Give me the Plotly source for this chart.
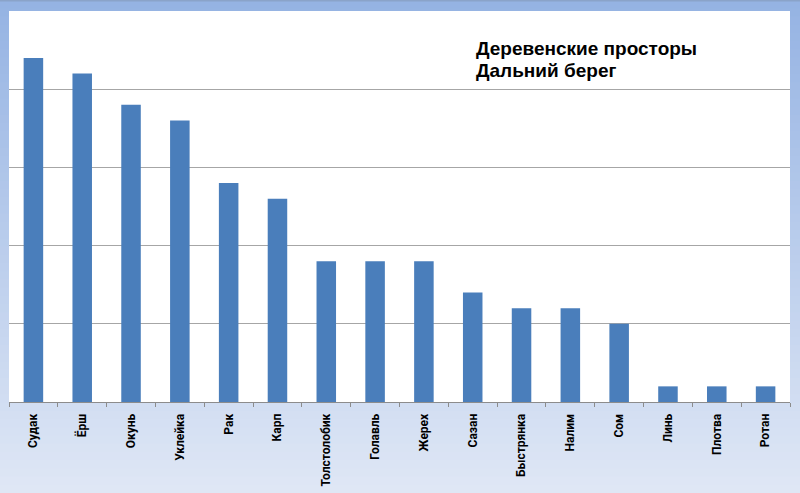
import plotly.graph_objects as go

categories = ["Судак", "Ёрш", "Окунь", "Уклейка", "Рак", "Карп", "Толстолобик", "Голавль",
              "Жерех", "Сазан", "Быстрянка", "Налим", "Сом", "Линь", "Плотва", "Ротан"]
values = [22, 21, 19, 18, 14, 13, 9, 9, 9, 7, 6, 6, 5, 1, 1, 1]
title_lines = ["Деревенские просторы", "Дальний берег"]

W, H = 800, 493
ML, MR, MT, MB = 9, 10, 11, 91
PW, PH = W - ML - MR, H - MT - MB

fig = go.Figure(go.Bar(x=categories, y=values, marker=dict(color="#4a7ebb", line=dict(width=0)),
                       hoverinfo="x+y"))

# background gradient (style only)
shapes = []
top = (0x95, 0xb3, 0xe3)
bot = (0xdf, 0xe7, 0xf5)
n = 60
for i in range(n):
    t = i / (n - 1)
    c = tuple(int(round(top[k] + (bot[k] - top[k]) * t)) for k in range(3))
    ypx0 = H * i / n
    ypx1 = H * (i + 1) / n + 1
    y0 = 1 - (ypx1 - MT) / PH
    y1 = 1 - (ypx0 - MT) / PH
    shapes.append(dict(type="rect", xref="paper", yref="paper", x0=-0.05, x1=1.05, y0=y0, y1=y1,
                       fillcolor="rgb(%d,%d,%d)" % c, line=dict(width=0), layer="below"))
shapes.append(dict(type="rect", xref="paper", yref="paper", x0=-0.05, x1=1.05,
                   y0=1 + (MT - 1.5) / PH, y1=1 + (MT + 2) / PH,
                   fillcolor="#8aa3c9", line=dict(width=0), layer="below"))
shapes.append(dict(type="rect", xref="paper", yref="paper", x0=0, x1=1, y0=0, y1=1,
                   fillcolor="white", line=dict(width=0), layer="below"))

title_tops = [36, 58]
annotations = [dict(
    text=line,
    xref="paper", yref="paper",
    x=(474 - ML) / PW, y=1 - (ty - MT) / PH,
    xanchor="left", yanchor="top", align="left", showarrow=False,
    font=dict(family="Liberation Sans", size=19, color="#000000", weight="bold"),
) for line, ty in zip(title_lines, title_tops)]

fig.update_layout(
    width=W, height=H,
    margin=dict(l=ML, r=MR, t=MT, b=MB, pad=0, autoexpand=False),
    paper_bgcolor="#c0d0ec",
    plot_bgcolor="white",
    shapes=shapes,
    bargap=0.6,
    showlegend=False,
    xaxis=dict(
        automargin=False,
        showline=True, linecolor="#8c8c8c", linewidth=1,
        ticks="outside", tickson="boundaries", ticklen=4, tickcolor="#8c8c8c",
        tickangle=-90, ticklabelstandoff=6,
        tickfont=dict(family="Roboto", size=12, color="#000000", weight="bold"),
        showgrid=False,
    ),
    yaxis=dict(
        automargin=False,
        range=[0, 25], dtick=5, showticklabels=False, showgrid=True,
        gridcolor="#a6a6a6", gridwidth=1, zeroline=False, showline=False, ticks="",
    ),
    annotations=annotations,
)

fig.write_html("out.html")
